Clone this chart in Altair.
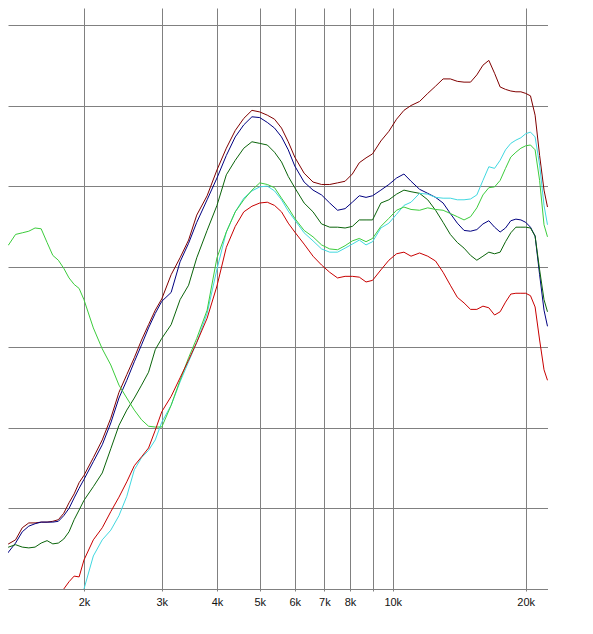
import altair as alt
import pandas as pd

# Frequencies (Hz) at which every curve was read
FREQ = [1300, 1350, 1400, 1450, 1500, 1550, 1600, 1650, 1700, 1750, 1800, 1850, 1900, 1950,
        2000, 2100, 2200, 2300, 2400, 2500, 2600, 2700, 2800, 2900, 3000,
        3150, 3300, 3450, 3600, 3800,
        4000, 4200, 4400, 4600, 4800, 5000, 5200, 5400, 5600, 5800, 6000,
        6300, 6600, 6900, 7200, 7500, 7800, 8100, 8400, 8700, 9000,
        9400, 9800, 10200, 10600,
        11000, 11500, 12000, 12500, 13000, 13500, 14000, 14500, 15000, 15500, 16000, 16500,
        17000, 17500, 18000, 18500, 19000, 19500, 20000, 20500, 21000, 21500, 22000,
        22400]

N = None

MAROON = [35.3, 35.6, 36.1, 37.6, 38.2, 38.2, 38.3, 38.3, 38.4, 38.6, 39.4, 40.7, 41.8, 43.2,
          44.1, 46.3, 48.5, 51.2, 54.4, 56.6, 58.7, 60.9, 62.8, 64.6, 66.0,
          69.0, 71.1, 73.3, 76.4, 78.8,
          82.0, 84.7, 86.9, 88.4, 89.4, 89.2, 88.8, 88.3, 87.2, 85.5, 83.6,
          81.6, 80.5, 80.2, 80.2, 80.4, 80.6, 81.5, 82.9, 83.5, 84.0,
          85.6, 86.8, 88.3, 89.4,
          90.0, 90.5, 91.5, 92.4, 93.3, 93.3, 93.0, 92.9, 92.9, 93.8, 95.0, 95.6,
          94.0, 92.3, 92.0, 91.8, 91.7, 91.7, 91.5, 91.2, 88.8, 83.8, 79.5,
          77.4]

NAVY = [33.5, 34.6, 35.7, 37.1, 37.8, 38.1, 38.3, 38.3, 38.3, 38.4, 39.1, 40.0, 41.3, 42.5,
        43.6, 45.8, 47.9, 50.6, 53.7, 55.9, 58.2, 60.3, 62.4, 64.2, 65.7,
        66.8, 70.6, 72.9, 75.5, 78.3,
        81.0, 83.8, 86.1, 87.6, 88.6, 88.5, 87.9, 87.2, 86.1, 84.5, 82.5,
        80.5, 79.5, 78.9, 77.9, 77.0, 77.2, 78.0, 78.8, 78.6, 78.8,
        79.5, 80.2, 81.0, 81.5,
        80.6, 79.6, 79.1, 78.6, 77.9, 76.6, 75.4, 74.5, 74.4, 74.6, 75.3, 75.7,
        74.9, 74.3, 74.8, 75.7, 75.9, 75.8, 75.5, 74.9, 73.8, 69.0, 64.6,
        62.6]

DKGREEN = [34.8, 35.2, 35.5, 35.2, 35.1, 35.2, 35.7, 36.0, 35.6, 35.7, 36.2, 37.1, 38.6, 39.8,
           41.0, 42.7, 44.4, 47.4, 50.3, 52.2, 53.7, 55.3, 56.9, 59.7, 61.1,
           62.8, 65.9, 67.7, 71.1, 74.5,
           77.6, 81.4, 83.2, 84.7, 85.5, 85.3, 85.1, 84.2, 83.0, 81.2, 79.8,
           77.9, 76.8, 75.3, 74.9, 74.9, 74.8, 75.0, 75.8, 75.8, 75.8,
           77.9, 78.3, 79.0, 79.5,
           79.3, 79.1, 78.3, 77.0, 75.5, 74.0, 73.0, 72.3, 71.4, 70.8, 71.3, 71.8,
           71.6, 71.8, 73.1, 74.2, 74.9, 74.9, 74.9, 74.8, 73.8, 69.6, 65.9,
           64.4]

CYAN = [N, N, N, N, N, N, N, N, N, N, N, N, N, N,
        30.0, 34.1, 36.1, 37.3, 39.1, 41.5, 44.8, 46.3, 47.2, 48.5, 50.7,
        52.8, 55.7, 58.2, 60.6, 64.2,
        69.7, 74.3, 76.8, 78.5, 79.4, 79.9, 80.0, 79.4, 78.3, 76.9, 75.8,
        74.2, 73.2, 72.2, 71.8, 71.8, 72.3, 72.8, 73.3, 72.7, 73.1,
        74.8, 75.4, 76.5, 77.6,
        78.0, 79.1, 79.0, 78.6, 78.5, 78.5, 78.3, 78.3, 78.4, 78.9, 80.7, 82.4,
        82.2, 83.2, 84.5, 85.3, 85.7, 86.0, 86.5, 86.7, 86.1, 82.6, 77.6,
        75.2]

LTGREEN = [73.5, 72.7, 74.0, 74.2, 74.4, 74.8, 74.7, 73.0, 71.4, 70.8, 69.8, 68.6, 67.8, 67.3,
           65.9, 62.4, 59.8, 57.8, 55.3, 53.7, 52.2, 51.0, 50.2, 50.1, 50.1,
           52.8, 55.9, 58.7, 61.1, 64.6,
           71.1, 74.3, 76.8, 78.3, 79.5, 80.4, 80.2, 79.8, 78.5, 77.3, 76.0,
           74.5, 73.7, 72.7, 72.2, 72.1, 72.6, 73.2, 73.5, 73.1, 73.5,
           75.0, 76.0, 77.0, 77.4,
           77.1, 77.0, 77.3, 77.1, 77.0, 76.6, 76.2, 75.8, 76.2, 77.3, 78.9, 79.8,
           79.9, 80.7, 82.2, 83.6, 84.2, 84.7, 85.0, 85.1, 84.5, 80.7, 75.2,
           73.7]

RED = [N, N, N, N, N, N, N, N, N, N, 30.0, 30.9, 31.6, 31.5,
       33.6, 36.1, 37.6, 39.6, 41.4, 43.3, 45.3, 46.4, 47.5, 49.7, 52.0,
       53.9, 56.2, 58.4, 60.6, 63.6,
       67.6, 72.4, 75.0, 76.8, 77.5, 77.9, 78.0, 77.6, 76.8, 75.4, 74.3,
       72.8, 71.3, 70.2, 69.3, 68.6, 68.8, 68.8, 68.7, 68.1, 68.3,
       69.6, 70.8, 71.6, 71.8,
       71.3, 71.7, 71.3, 70.7, 69.3, 67.7, 66.2, 65.5, 64.7, 64.7, 65.1, 64.9,
       64.0, 64.4, 65.6, 66.6, 66.7, 66.7, 66.7, 66.4, 65.0, 60.9, 57.2,
       55.9]

SERIES_NAMES = ["a_maroon", "b_navy", "c_dkgreen", "d_cyan", "e_ltgreen", "f_red"]
SERIES_COLORS = ["#800000", "#000080", "#0a640a", "#40d8e0", "#3ccc3c", "#c80000"]
SERIES_VALUES = [MAROON, NAVY, DKGREEN, CYAN, LTGREEN, RED]

X_TICKS = [2000, 3000, 4000, 5000, 6000, 7000, 8000, 9000, 10000, 20000]
Y_GRID = [40, 50, 60, 70, 80, 90, 100]

rows = []
for name, vals in zip(SERIES_NAMES, SERIES_VALUES):
    for f, v in zip(FREQ, vals):
        if v is not None:
            rows.append({"freq": f, "level": v, "series": name})
df = pd.DataFrame(rows)

GRID = "#808080"

x_enc = alt.X(
    "freq:Q",
    scale=alt.Scale(type="log", domain=[1346, 22460], nice=False),
    axis=alt.Axis(
        values=X_TICKS,
        labelExpr="datum.value == 9000 ? '' : format(datum.value / 1000, 'd') + 'k'",
        grid=True, gridColor=GRID, gridOpacity=1, gridWidth=1,
        domain=True, domainColor=GRID, domainWidth=1,
        ticks=True, tickColor=GRID, tickSize=2, tickWidth=1,
        labelFont="Liberation Sans", labelFontSize=11, labelColor="#111111",
        labelPadding=5, labelFlush=False, labelOverlap=False, title=None,
    ),
)
y_enc = alt.Y(
    "level:Q",
    scale=alt.Scale(domain=[30, 102.1], nice=False, zero=False),
    axis=alt.Axis(
        values=Y_GRID, grid=True, gridColor=GRID, gridOpacity=1, gridWidth=1,
        labels=False, ticks=False, domain=False, title=None,
    ),
)

chart = alt.Chart(df).mark_line(strokeWidth=1, clip=True).encode(
    x=x_enc,
    y=y_enc,
    color=alt.Color("series:N", scale=alt.Scale(domain=SERIES_NAMES, range=SERIES_COLORS), legend=None),
).properties(
    width=540, height=581, padding=0, background="white"
).configure_view(stroke=None)

chart.save("out.html", embed_options={"renderer": "svg", "actions": False})
